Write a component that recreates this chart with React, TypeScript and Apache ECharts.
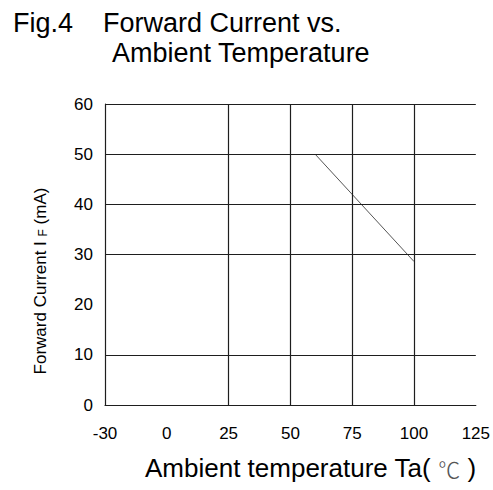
import React, { useEffect, useRef } from "react";
import * as echarts from "echarts";

const xTickLabels = [-30, 0, 25, 50, 75, 100, 125];
const yMin = 0;
const yMax = 60;
const yInterval = 10;
const verticalGridTemps = [25, 50, 75, 100];
const horizontalGridValues = [10, 30, 40, 50, 60];
const deratingTemps = [60, 100];
const deratingCurrents = [50, 28.6];

const FONT = "'Liberation Sans', Arial, sans-serif";

// map a temperature onto the evenly spaced (non-linear) tick positions
function tempToPos(t: number): number {
  for (let i = 0; i < xTickLabels.length - 1; i++) {
    const a = xTickLabels[i];
    const b = xTickLabels[i + 1];
    if (t >= a && t <= b) return i + (t - a) / (b - a);
  }
  return t < xTickLabels[0] ? 0 : xTickLabels.length - 1;
}

export default function App() {
  const ref = useRef<HTMLDivElement>(null);
  useEffect(() => {
    if (!ref.current) return;
    const chart = echarts.init(ref.current, undefined, { renderer: "svg" });
    const gridColor = "#1e1e1e";
    chart.setOption({
      animation: false,
      backgroundColor: "#ffffff",
      grid: { left: 105, right: 16, top: 104, bottom: 85 },
      xAxis: {
        type: "value",
        min: 0,
        max: xTickLabels.length - 1,
        interval: 1,
        axisLine: { show: true, lineStyle: { color: gridColor, width: 1.2 } },
        axisTick: { show: false },
        splitLine: { show: false },
        axisLabel: {
          margin: 20,
          fontSize: 17,
          fontFamily: FONT,
          color: "#000",
          formatter: (v: number) => String(xTickLabels[Math.round(v)] ?? ""),
        },
      },
      yAxis: {
        type: "value",
        min: yMin,
        max: yMax,
        interval: yInterval,
        axisLine: { show: true, lineStyle: { color: gridColor, width: 1.2 } },
        axisTick: { show: false },
        splitLine: { show: false },
        axisLabel: {
          margin: 12,
          fontSize: 17,
          fontFamily: FONT,
          color: "#000",
        },
      },
      series: [
        {
          type: "line",
          symbol: "none",
          data: deratingTemps.map((t, i) => [tempToPos(t), deratingCurrents[i]]),
          lineStyle: { color: "#555", width: 1 },
          markLine: {
            silent: true,
            symbol: "none",
            label: { show: false },
            lineStyle: { color: gridColor, width: 1.2, type: "solid" },
            data: [
              ...verticalGridTemps.map((t) => ({ xAxis: tempToPos(t) })),
              ...horizontalGridValues.map((v) => ({ yAxis: v })),
            ],
          },
        },
      ],
      graphic: [
        {
          type: "text",
          x: 13,
          y: 23,
          style: {
            text: "Fig.4",
            fontSize: 27,
            fontFamily: FONT,
            fill: "#000",
            align: "left",
            verticalAlign: "middle",
          },
        },
        {
          type: "text",
          x: 103,
          y: 23,
          style: {
            text: "Forward Current vs.",
            fontSize: 27,
            fontFamily: FONT,
            fill: "#000",
            align: "left",
            verticalAlign: "middle",
          },
        },
        {
          type: "text",
          x: 112,
          y: 53,
          style: {
            text: "Ambient Temperature",
            fontSize: 27,
            fontFamily: FONT,
            fill: "#000",
            align: "left",
            verticalAlign: "middle",
          },
        },
        {
          type: "text",
          x: 145,
          y: 468,
          style: {
            text: "{a|Ambient temperature Ta( }{c|℃}{a| )}",
            align: "left",
            verticalAlign: "middle",
            rich: {
              a: { fontSize: 26, fontFamily: FONT, fill: "#000" },
              c: {
                fontSize: 22,
                fontFamily: "'Noto Sans CJK JP', sans-serif",
                fontWeight: 300,
                fill: "#555",
              },
            },
          },
        },
        {
          type: "text",
          x: 40,
          y: 281,
          rotation: Math.PI / 2,
          style: {
            text: "{a|Forward Current I }{s|F}{a| (mA)}",
            align: "center",
            verticalAlign: "middle",
            rich: {
              a: { fontSize: 17, fontFamily: FONT, fill: "#000" },
              s: {
                fontSize: 12,
                fontFamily: FONT,
                fill: "#000",
                verticalAlign: "bottom",
              },
            },
          },
        },
      ],
    });
    return () => chart.dispose();
  }, []);
  return (
    <div
      ref={ref}
      style={{ position: "fixed", left: 0, top: 0, width: 493, height: 490 }}
    />
  );
}
